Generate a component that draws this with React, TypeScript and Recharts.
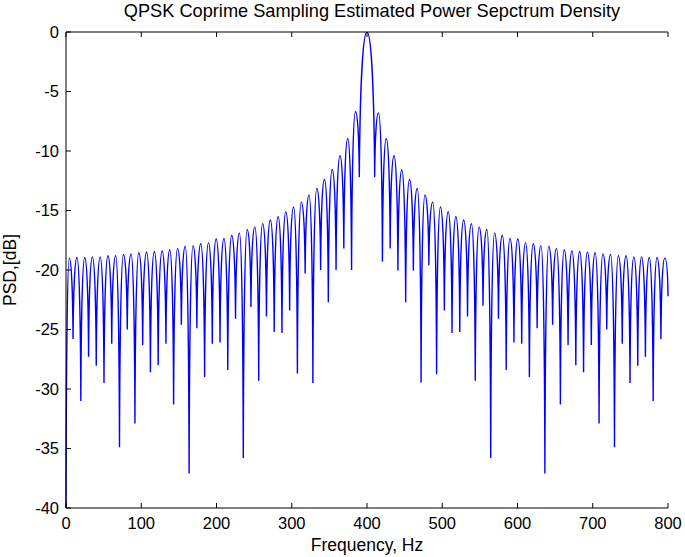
import { LineChart, Line, XAxis, YAxis } from "recharts";

// lobe peaks and nulls left of the main lobe (Hz, dB)
const leftPeakHz = [4.3, 14.6, 24.9, 35.1, 45.4, 55.7, 66.0, 76.3, 86.5, 96.8, 107.1, 117.4, 127.7, 137.9, 148.2, 158.5, 168.8, 179.1, 189.3, 199.6, 209.9, 220.2, 230.5, 240.7, 251.0, 261.3, 271.6, 281.9, 292.1, 302.4, 312.7, 323.0, 333.3, 343.5, 353.8, 364.1, 374.4, 384.7];
const leftPeakDb = [-19.0, -18.95, -18.95, -18.9, -18.9, -18.8, -18.8, -18.7, -18.65, -18.55, -18.5, -18.45, -18.4, -18.3, -18.2, -18.0, -17.95, -17.8, -17.7, -17.4, -17.35, -17.1, -16.9, -16.6, -16.4, -16.1, -15.8, -15.5, -15.1, -14.7, -14.3, -13.7, -13.15, -12.4, -11.55, -10.4, -8.95, -6.7];
const leftNullHz = [9.4, 19.7, 30.0, 40.2, 50.5, 60.8, 71.1, 81.4, 91.6, 101.9, 112.2, 122.5, 132.8, 143.0, 153.3, 163.6, 173.9, 184.2, 194.4, 204.7, 215.0, 225.3, 235.6, 245.8, 256.1, 266.4, 276.7, 287.0, 297.2, 307.5, 317.8, 328.1, 338.4, 348.6, 358.9, 369.2, 379.5, 389.8];
const leftNullDb = [-25.8, -31.0, -27.3, -28.05, -29.5, -26.2, -34.9, -25.0, -32.9, -26.3, -28.6, -28.0, -26.2, -31.3, -24.6, -37.1, -24.9, -29.0, -26.2, -26.1, -28.4, -24.1, -35.8, -23.1, -29.3, -23.9, -25.2, -25.3, -23.4, -28.7, -20.3, -29.5, -20.0, -22.7, -20.0, -18.2, -20.0, -12.2];

const mainLobe = { hz: 400, db: 0 };

// right of the main lobe
const rightNullHz = [410.2, 420.5, 430.8, 441.1, 451.4, 461.6, 471.9, 482.2, 492.5, 502.8, 513.0, 523.3, 533.6, 543.9, 554.2, 564.4, 574.7, 585.0, 595.3, 605.6, 615.8, 626.1, 636.4, 646.7, 657.0, 667.2, 677.5, 687.8, 698.1, 708.4, 718.6, 728.9, 739.2, 749.5, 759.8, 770.0, 780.3, 790.6];
const rightNullDb = [-12.2, -19.3, -18.2, -20.05, -22.7, -20.05, -29.45, -19.6, -28.75, -23.4, -25.3, -25.2, -23.9, -29.3, -23.0, -35.8, -24.1, -28.4, -26.1, -26.2, -29.0, -24.9, -37.1, -24.6, -31.3, -26.3, -28.0, -28.6, -26.3, -32.9, -25.0, -34.9, -26.2, -29.5, -28.05, -27.3, -31.0, -25.8];
const rightPeakHz = [415.3, 425.6, 435.9, 446.2, 456.5, 466.7, 477.0, 487.3, 497.6, 507.9, 518.1, 528.4, 538.7, 549.0, 559.3, 569.5, 579.8, 590.1, 600.4, 610.7, 620.9, 631.2, 641.5, 651.8, 662.1, 672.3, 682.6, 692.9, 703.2, 713.5, 723.7, 734.0, 744.3, 754.6, 764.9, 775.1, 785.4, 795.7];
const rightPeakDb = [-6.8, -8.95, -10.4, -11.6, -12.4, -13.15, -13.7, -14.3, -14.7, -15.1, -15.5, -15.8, -16.1, -16.4, -16.6, -16.9, -17.1, -17.35, -17.4, -17.7, -17.8, -17.95, -18.0, -18.2, -18.3, -18.4, -18.45, -18.5, -18.55, -18.65, -18.7, -18.8, -18.8, -18.9, -18.9, -18.95, -18.95, -19.0];

const startPoint = { hz: 0, db: -40 };
const endPoint = { hz: 800, db: -22.2 };

const xTicks = [0, 100, 200, 300, 400, 500, 600, 700, 800];
const yTicks = [0, -5, -10, -15, -20, -25, -30, -35, -40];

const data: { hz: number; db: number }[] = [startPoint];
leftPeakHz.forEach((hz, i) => {
  data.push({ hz, db: leftPeakDb[i] });
  data.push({ hz: leftNullHz[i], db: leftNullDb[i] });
});
data.push(mainLobe);
rightNullHz.forEach((hz, i) => {
  data.push({ hz, db: rightNullDb[i] });
  data.push({ hz: rightPeakHz[i], db: rightPeakDb[i] });
});
data.push(endPoint);

// rounded tops, sharp nulls (like a sinc in dB)
function lobeCurve(ctx: any) {
  let px = 0;
  let py = 0;
  let n = 0;
  return {
    areaStart() {},
    areaEnd() {},
    lineStart() {
      n = 0;
    },
    lineEnd() {},
    point(x: number, y: number) {
      x = +x;
      y = +y;
      if (n === 0) {
        ctx.moveTo(x, y);
      } else {
        const dx = x - px;
        if (y < py) {
          ctx.bezierCurveTo(px + 0.08 * dx, py + 0.6 * (y - py), x - 0.55 * dx, y, x, y);
        } else {
          ctx.bezierCurveTo(px + 0.55 * dx, py, x - 0.08 * dx, y - 0.6 * (y - py), x, y);
        }
      }
      px = x;
      py = y;
      n++;
    },
  };
}

const font = "'Liberation Sans', Arial, Helvetica, sans-serif";
const tickStyle = { fontSize: 16.5, fill: "#000", fontFamily: font };

export default function App() {
  return (
    <div style={{ position: "fixed", left: 0, top: 0, background: "#fff" }}>
      <LineChart width={685} height={557} data={data} margin={{ top: 2, right: 17, bottom: 19, left: 26 }}>
        <XAxis
          dataKey="hz"
          type="number"
          domain={[0, 800]}
          ticks={xTicks}
          tick={tickStyle}
          tickSize={-5}
          tickMargin={14}
          height={30}
          stroke="#000"
          interval={0}
          label={{
            content: () => (
              <text x={367} y={551} textAnchor="middle" fontSize={17.5} fontFamily={font} fill="#000">
                Frequency, Hz
              </text>
            ),
          }}
        />
        <XAxis
          xAxisId="top"
          orientation="top"
          dataKey="hz"
          type="number"
          domain={[0, 800]}
          ticks={xTicks}
          tickFormatter={() => ""}
          tickSize={-5}
          height={30}
          stroke="#000"
          interval={0}
          label={{
            content: () => (
              <text x={372} y={17} textAnchor="middle" fontSize={18.2} fontFamily={font} fill="#000">
                QPSK Coprime Sampling Estimated Power Sepctrum Density
              </text>
            ),
          }}
        />
        <YAxis
          type="number"
          domain={[-40, 0]}
          ticks={yTicks}
          tick={tickStyle}
          tickSize={-5}
          tickMargin={12}
          width={40}
          stroke="#000"
          interval={0}
          allowDataOverflow
          label={{
            content: () => (
              <text x={16} y={270} transform="rotate(-90 16 270)" textAnchor="middle" fontSize={17.5} fontFamily={font} fill="#000">
                PSD,[dB]
              </text>
            ),
          }}
        />
        <YAxis
          yAxisId="right"
          orientation="right"
          type="number"
          domain={[-40, 0]}
          ticks={yTicks}
          tickFormatter={() => ""}
          tickSize={-5}
          width={0}
          stroke="#000"
          interval={0}
        />
        <Line
          dataKey="db"
          type={lobeCurve as any}
          stroke="#0000ff"
          strokeWidth={1.4}
          dot={false}
          isAnimationActive={false}
        />
      </LineChart>
    </div>
  );
}
